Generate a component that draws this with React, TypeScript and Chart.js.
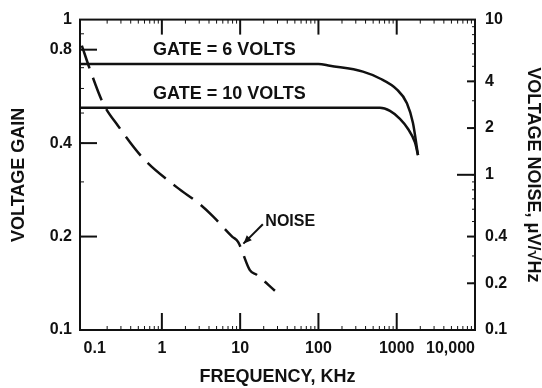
import React, { useEffect, useRef } from "react";
import { Chart, registerables } from "chart.js";

Chart.register(...registerables);

// ---- data ----
const gate6Freq = [0.09, 100, 140, 370, 610, 1000, 1350, 1610, 1870];
const gate6Gain = [0.72, 0.72, 0.71, 0.68, 0.646, 0.596, 0.538, 0.465, 0.366];

const gate10Freq = [0.09, 610, 820, 1100, 1390, 1710, 1870];
const gate10Gain = [0.52, 0.52, 0.508, 0.479, 0.445, 0.402, 0.366];

const noiseFreq = [0.095, 0.121, 0.177, 0.275, 0.574, 1.56, 3.07, 4.5, 7.9, 9.4, 13.3, 16.4, 27.8];
const noiseValue = [6.8, 4.75, 2.9, 2.07, 1.28, 0.83, 0.645, 0.54, 0.4, 0.37, 0.243, 0.226, 0.179];

const xTickValues = [0.1, 1, 10, 100, 1000, 10000];
const xTickLabels = ["0.1", "1", "10", "100", "1000", "10,000"];
const gainTickValues = [0.1, 0.2, 0.4, 0.8, 1];
const gainTickLabels = ["0.1", "0.2", "0.4", "0.8", "1"];
const noiseTickValues = [0.1, 0.2, 0.4, 1, 2, 4, 10];
const noiseTickLabels = ["0.1", "0.2", "0.4", "1", "2", "4", "10"];

const xMajorMarks = [1, 10, 100, 1000];
const gainMajorMarks = [0.2, 0.4, 0.8];
const noiseShortMarks = [0.2, 0.4, 2, 4];
const noiseLongMarks = [1];

const FONT = '"Liberation Sans", Arial, Helvetica, sans-serif';
const INK = "#111";

export default function App() {
  const ref = useRef<HTMLCanvasElement>(null);

  useEffect(() => {
    const canvas = ref.current;
    if (!canvas) return;

    const deco = {
      id: "deco",
      afterDatasetsDraw(chart: any) {
        const { ctx, chartArea: a, scales } = chart;
        const sx = scales.x;
        const sy = scales.y;
        const sy2 = scales.y2;
        ctx.save();
        ctx.strokeStyle = INK;
        ctx.fillStyle = INK;
        // frame
        ctx.lineWidth = 2;
        ctx.strokeRect(a.left, a.top, a.right - a.left, a.bottom - a.top);

        const line = (x1: number, y1: number, x2: number, y2: number, w: number) => {
          ctx.lineWidth = w;
          ctx.beginPath();
          ctx.moveTo(x1, y1);
          ctx.lineTo(x2, y2);
          ctx.stroke();
        };

        // minor ticks
        for (let e = -2; e <= 3; e++) {
          for (let k = 2; k <= 9; k++) {
            const v = k * Math.pow(10, e);
            if (v <= sx.min || v >= sx.max) continue;
            const px = sx.getPixelForValue(v);
            line(px, a.bottom, px, a.bottom - 4, 1);
            line(px, a.top, px, a.top + 4, 1);
          }
        }
        for (let k = 1; k <= 9; k++) {
          const py = sy.getPixelForValue(k / 10);
          line(a.left, py, a.left + 4, py, 1);
        }
        for (let e = -1; e <= 0; e++) {
          for (let k = 1; k <= 9; k++) {
            const py = sy2.getPixelForValue(k * Math.pow(10, e));
            line(a.right, py, a.right - 3, py, 1);
          }
        }
        // major ticks
        xMajorMarks.forEach((v) => {
          const px = sx.getPixelForValue(v);
          line(px, a.bottom, px, a.bottom - 17, 2);
          line(px, a.top, px, a.top + 15, 2);
        });
        gainMajorMarks.forEach((v) => {
          const py = sy.getPixelForValue(v);
          line(a.left, py, a.left + 17, py, 2);
        });
        noiseShortMarks.forEach((v) => {
          const py = sy2.getPixelForValue(v);
          line(a.right, py, a.right - 8, py, 2);
        });
        noiseLongMarks.forEach((v) => {
          const py = sy2.getPixelForValue(v);
          line(a.right, py, a.right - 18, py, 2);
        });

        // annotations
        ctx.font = `bold 18px ${FONT}`;
        ctx.textAlign = "left";
        ctx.textBaseline = "middle";
        ctx.fillText("GATE = 6 VOLTS", sx.getPixelForValue(0.77), sy.getPixelForValue(0.8));
        ctx.fillText("GATE = 10 VOLTS", sx.getPixelForValue(0.77), sy.getPixelForValue(0.575));

        ctx.font = `bold 16px ${FONT}`;
        ctx.fillText("NOISE", sx.getPixelForValue(21), sy2.getPixelForValue(0.5));
        const tx = sx.getPixelForValue(19.5);
        const ty = sy2.getPixelForValue(0.48);
        const hx = sx.getPixelForValue(11);
        const hy = sy2.getPixelForValue(0.36);
        line(tx, ty, hx, hy, 2);
        const ang = Math.atan2(hy - ty, hx - tx);
        ctx.beginPath();
        ctx.moveTo(hx, hy);
        ctx.lineTo(hx - 9 * Math.cos(ang - 0.4), hy - 9 * Math.sin(ang - 0.4));
        ctx.lineTo(hx - 9 * Math.cos(ang + 0.4), hy - 9 * Math.sin(ang + 0.4));
        ctx.closePath();
        ctx.fill();
        ctx.restore();
      },
    };

    const toXY = (xs: number[], ys: number[]) => xs.map((x, i) => ({ x, y: ys[i] }));

    const tickFont = { family: FONT, size: 16, weight: "bold" as const };
    const titleFont = { family: FONT, size: 18, weight: "bold" as const };

    const chart = new Chart(canvas, {
      type: "line",
      data: {
        datasets: [
          {
            label: "GATE = 6 VOLTS",
            data: toXY(gate6Freq, gate6Gain),
            yAxisID: "y",
            borderColor: INK,
            borderWidth: 2.5,
            pointRadius: 0,
            cubicInterpolationMode: "monotone",
          },
          {
            label: "GATE = 10 VOLTS",
            data: toXY(gate10Freq, gate10Gain),
            yAxisID: "y",
            borderColor: INK,
            borderWidth: 2.5,
            pointRadius: 0,
            cubicInterpolationMode: "monotone",
          },
          {
            label: "NOISE",
            data: toXY(noiseFreq, noiseValue),
            yAxisID: "y2",
            borderColor: INK,
            borderWidth: 2.5,
            borderDash: [24, 10],
            pointRadius: 0,
            cubicInterpolationMode: "monotone",
          },
        ],
      },
      options: {
        animation: false,
        responsive: true,
        maintainAspectRatio: false,
        layout: { padding: { top: 12, left: 0, right: 0, bottom: 0 } },
        plugins: { legend: { display: false }, tooltip: { enabled: false } },
        scales: {
          x: {
            type: "logarithmic",
            min: 0.09,
            max: 10000,
            grid: { display: false, drawTicks: false },
            border: { display: false },
            afterBuildTicks: (s: any) => {
              s.ticks = xTickValues.map((value) => ({ value }));
            },
            afterFit: (s: any) => {
              s.height = 58;
            },
            ticks: {
              color: INK,
              font: tickFont,
              padding: 9,
              align: "inner",
              maxRotation: 0,
              autoSkip: false,
              callback: (v: any, i: number) => xTickLabels[i],
            },
            title: {
              display: true,
              text: "FREQUENCY, KHz",
              color: INK,
              font: titleFont,
              padding: { top: 0, bottom: 0 },
            },
          },
          y: {
            type: "logarithmic",
            position: "left",
            min: 0.1,
            max: 1,
            grid: { display: false, drawTicks: false },
            border: { display: false },
            afterBuildTicks: (s: any) => {
              s.ticks = gainTickValues.map((value) => ({ value }));
            },
            afterFit: (s: any) => {
              s.width = 80;
            },
            ticks: {
              color: INK,
              font: tickFont,
              padding: 8,
              autoSkip: false,
              callback: (v: any, i: number) => gainTickLabels[i],
            },
            title: {
              display: true,
              text: "VOLTAGE GAIN",
              color: INK,
              font: titleFont,
              padding: { top: 8, bottom: 0 },
            },
          },
          y2: {
            type: "logarithmic",
            position: "right",
            min: 0.1,
            max: 10,
            grid: { display: false, drawTicks: false },
            border: { display: false },
            afterBuildTicks: (s: any) => {
              s.ticks = noiseTickValues.map((value) => ({ value }));
            },
            afterFit: (s: any) => {
              s.width = 67;
            },
            ticks: {
              color: INK,
              font: tickFont,
              padding: 10,
              autoSkip: false,
              callback: (v: any, i: number) => noiseTickLabels[i],
            },
            title: {
              display: true,
              text: "VOLTAGE NOISE, \u03BCV/\u221AHz",
              color: INK,
              font: titleFont,
              padding: { top: -2, bottom: 0 },
            },
          },
        },
      },
      plugins: [deco],
    } as any);

    return () => chart.destroy();
  }, []);

  return (
    <div
      style={{
        position: "fixed",
        left: 0,
        top: 0,
        width: 542,
        height: 388,
        background: "#fff",
      }}
    >
      <canvas ref={ref} />
    </div>
  );
}
